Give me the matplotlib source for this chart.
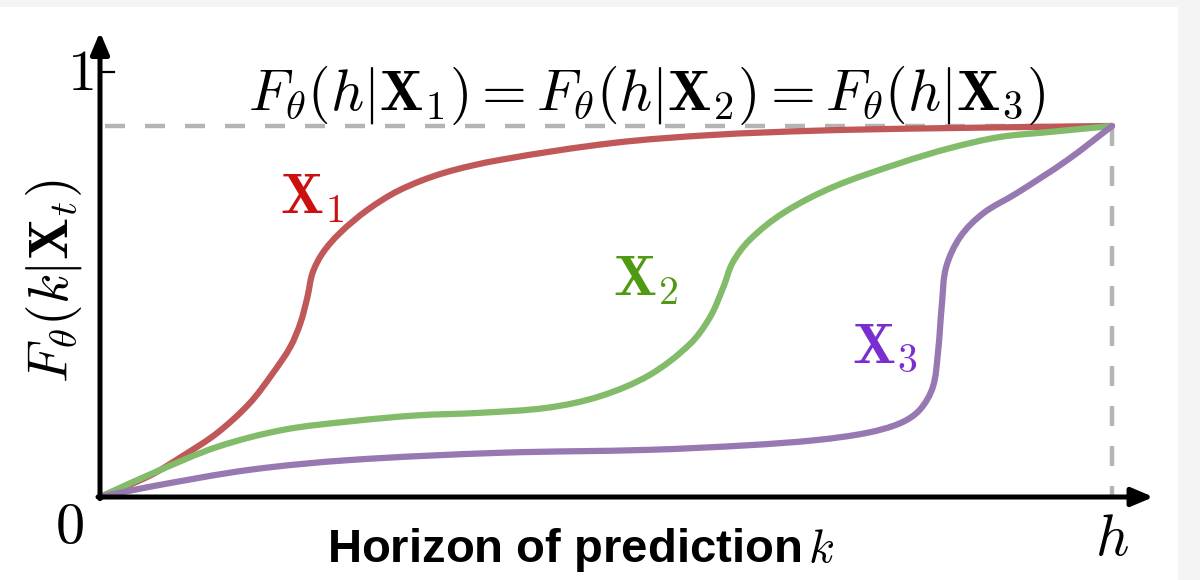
import matplotlib
matplotlib.use("Agg")
import matplotlib.pyplot as plt
import numpy as np
from matplotlib.patches import Rectangle, PathPatch
from matplotlib.path import Path

plt.rcParams['mathtext.fontset'] = 'cm'
plt.rcParams['lines.scale_dashes'] = False

# Horizon k (fraction of h) and CDF values F(k|X)
x1 = [0.0, 0.049, 0.082, 0.116, 0.148, 0.171, 0.188, 0.198, 0.205, 0.210, 0.220,
      0.237, 0.264, 0.296, 0.339, 0.395, 0.507, 0.606, 0.708, 0.807, 1.0]
y1 = [0.0, 0.050, 0.097, 0.151, 0.221, 0.292, 0.353, 0.409, 0.471, 0.527, 0.574,
      0.621, 0.675, 0.722, 0.762, 0.793, 0.833, 0.852, 0.862, 0.867, 0.873]

x2 = [0.0, 0.056, 0.116, 0.181, 0.247, 0.313, 0.375, 0.442, 0.494, 0.543, 0.583,
      0.603, 0.616, 0.625, 0.642, 0.675, 0.724, 0.791, 0.840, 0.889, 0.939, 1.0]
y2 = [0.0, 0.060, 0.118, 0.158, 0.178, 0.192, 0.198, 0.210, 0.237, 0.287, 0.360,
      0.424, 0.494, 0.551, 0.605, 0.668, 0.729, 0.786, 0.821, 0.847, 0.859, 0.873]

x3 = [0.0, 0.049, 0.148, 0.247, 0.395, 0.543, 0.642, 0.708, 0.758, 0.791, 0.810,
      0.823, 0.828, 0.832, 0.836, 0.850, 0.873, 0.906, 0.956, 1.0]
y3 = [0.0, 0.024, 0.064, 0.087, 0.104, 0.111, 0.122, 0.134, 0.151, 0.174, 0.205,
      0.259, 0.339, 0.456, 0.540, 0.612, 0.668, 0.715, 0.793, 0.873]

level = 0.873
series_labels = [r'$\mathbf{X}_1$', r'$\mathbf{X}_2$', r'$\mathbf{X}_3$']
line_colors = ['#c0585a', '#82bb6a', '#9878b0']
label_colors = ['#cc1010', '#4f9a10', '#7a2ed0']
label_pos = [(0.178, 0.668), (0.507, 0.475), (0.743, 0.318)]


def smooth_path(xs, ys, sx=1012.0, sy=425.0):
    """Smooth Bezier path passing through every given point."""
    P = np.column_stack([np.asarray(xs) * sx, np.asarray(ys) * sy])
    n = len(P)
    T = np.zeros_like(P)
    for i in range(n):
        a = P[max(i - 1, 0)]
        b = P[min(i + 1, n - 1)]
        d = b - a
        T[i] = d / np.hypot(*d)
    verts = [P[0]]
    codes = [Path.MOVETO]
    for i in range(n - 1):
        L = np.hypot(*(P[i + 1] - P[i]))
        verts += [P[i] + T[i] * L / 3, P[i + 1] - T[i + 1] * L / 3, P[i + 1]]
        codes += [Path.CURVE4] * 3
    V = np.array(verts)
    V[:, 0] /= sx
    V[:, 1] /= sy
    return Path(V, codes)


fig = plt.figure(figsize=(12, 5.8), dpi=100)
fig.patch.set_facecolor('#f4f4f4')
fig.patches.append(Rectangle((0, 0), 1178 / 1200, 573 / 580, transform=fig.transFigure,
                             facecolor='white', edgecolor='none', zorder=-10))

ax = fig.add_axes([100 / 1200, 83 / 580, 1012 / 1200, 425 / 580])
ax.set_xlim(0, 1)
ax.set_ylim(0, 1)
ax.axis('off')

# dashed guides
ax.plot([0.005, 1.0], [level, level], color='#b4b4b4', lw=3.2, dashes=(14.4, 14.4),
        clip_on=False, zorder=1, dash_capstyle='butt')
ax.plot([1.0, 1.0], [level, 0], color='#b4b4b4', lw=3.2, dashes=(14.4, 14.4),
        clip_on=False, zorder=1, dash_capstyle='butt')

for xs, ys, c in zip([x1, x2, x3], [y1, y2, y3], line_colors):
    patch = PathPatch(smooth_path(xs, ys), facecolor='none', edgecolor=c, lw=4.5,
                      capstyle='round', joinstyle='round', clip_on=False, zorder=3)
    ax.add_patch(patch)

for lab, c, (lx, ly) in zip(series_labels, label_colors, label_pos):
    ax.text(lx, ly, lab, color=c, fontsize=41, ha='left', va='baseline', zorder=4)

# axes with arrows
arrow_kw = dict(arrowstyle='-|>,head_length=1.3,head_width=0.55', color='black',
                lw=3.6, shrinkA=0, shrinkB=0)
ax.annotate('', xy=(1.041, 0), xytext=(-0.002, 0), xycoords='data',
            arrowprops=arrow_kw, annotation_clip=False, zorder=5)
ax.annotate('', xy=(0, 1.094), xytext=(0, -0.004), xycoords='data',
            arrowprops=arrow_kw, annotation_clip=False, zorder=5)
ax.plot([0, 0.014], [1, 1], color='black', lw=1.6, clip_on=False, zorder=5)

ax.text(-0.020, 0.958, r'$1$', fontsize=42, ha='center', va='baseline')
ax.text(-0.030, -0.108, r'$0$', fontsize=42, ha='center', va='baseline')
ax.text(1.0, -0.136, r'$h$', fontsize=42, ha='center', va='baseline')

ax.text(0.540, 0.911,
        r'$F_\theta(h|\mathbf{X}_1) = F_\theta(h|\mathbf{X}_2) = F_\theta(h|\mathbf{X}_3)$',
        fontsize=41.5, ha='center', va='baseline')
ax.text(-0.045, 0.508, r'$F_\theta(k|\mathbf{X}_t)$', fontsize=40, rotation=90,
        ha='center', va='center')
ax.text(0.475, -0.153, r'Horizon of prediction$\,k$', fontsize=34,
        family='Liberation Sans', fontweight='bold', ha='center', va='baseline')

fig.savefig('out.png', dpi=100, facecolor=fig.get_facecolor())
